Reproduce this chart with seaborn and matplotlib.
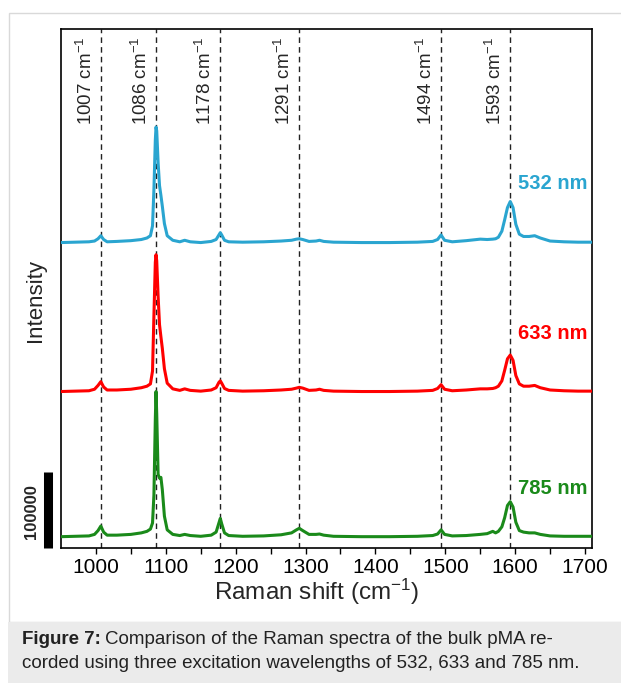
import numpy as np
import pandas as pd
import matplotlib
matplotlib.use("Agg")
import matplotlib.pyplot as plt
import matplotlib.transforms as mtransforms
from matplotlib.patches import Rectangle
import seaborn as sns

# ---------------- data ----------------
shift = [950, 970, 990, 998, 1003, 1007, 1011, 1016, 1030, 1050, 1065, 1073, 1078,
         1081, 1083, 1085, 1086, 1087, 1089, 1091, 1093, 1095, 1098, 1102, 1110,
         1120, 1127, 1135, 1150, 1165, 1172, 1176, 1178, 1180, 1184, 1190, 1210,
         1240, 1265, 1280, 1287, 1291, 1296, 1305, 1315, 1320, 1326, 1340, 1380,
         1420, 1460, 1482, 1489, 1494, 1499, 1510, 1530, 1550, 1560, 1568, 1572,
         1576, 1581, 1585, 1589, 1593, 1597, 1601, 1606, 1612, 1620, 1628, 1636,
         1650, 1670, 1690, 1710]

int_532 = [0, 500, 1000, 2000, 5000, 9000, 4000, 1000, 1500, 2500, 4000, 6000, 9000,
           22000, 70000, 135000, 152000, 147000, 105000, 75000, 62000, 48000, 25000, 9000, 3000,
           1000, 3000, 1000, 0, 1500, 4000, 10000, 13000, 10000, 3000, 1000, 500,
           1000, 2000, 3000, 4500, 5000, 4000, 1500, 2000, 3000, 1500, 500, 0,
           0, 500, 1500, 4000, 10000, 3000, 1000, 2500, 4500, 4000, 4500, 5000,
           7000, 15000, 30000, 46000, 54000, 46000, 24000, 11000, 8000, 8000, 9000, 6000,
           2000, 1000, 500, 500]

int_633 = [0, 500, 1000, 3000, 8000, 13000, 6000, 2000, 2000, 3000, 5000, 7000, 10000,
           27000, 100000, 170000, 180000, 172000, 125000, 88000, 72000, 57000, 30000, 11000, 3500,
           1500, 3500, 1500, 500, 2000, 5000, 12000, 14000, 11000, 4000, 1500, 500,
           1000, 2000, 3000, 4500, 5500, 4500, 1500, 2000, 3000, 1500, 500, 0,
           0, 500, 1500, 4000, 9000, 3000, 1000, 2000, 3500, 3500, 4000, 5000,
           7000, 14000, 28000, 43000, 48000, 41000, 21000, 10000, 7000, 7000, 8000, 5000,
           2000, 1000, 500, 500]

int_785 = [0, 500, 1000, 3000, 8000, 14000, 6000, 2000, 2000, 3000, 5000, 7000, 10000,
           18000, 55000, 155000, 191000, 162000, 82000, 77000, 78000, 62000, 27000, 9000, 3000,
           1500, 3000, 1500, 500, 2000, 6000, 18000, 24000, 17000, 5000, 1500, 500,
           1000, 2500, 5000, 9000, 11000, 8000, 3000, 3000, 3500, 2000, 500, 0,
           0, 500, 1500, 3500, 9000, 3000, 1000, 1500, 3000, 4000, 7000, 5000,
           7000, 13000, 25000, 41000, 46000, 39000, 19000, 8000, 6000, 5000, 5000, 3000,
           1000, 500, 500, 500]

labels = ["532 nm", "633 nm", "785 nm"]
offsets = [387000, 191000, 0]
label_heights = [78000, 76000, 63000]
colors = ["#2aa5d0", "#ff0000", "#1a8a1a"]
peaks = [1007, 1086, 1178, 1291, 1494, 1593]
xticks = [1000, 1100, 1200, 1300, 1400, 1500, 1600, 1700]
scale_bar = 100000

# ---------------- style ----------------
sns.set_style("ticks")
plt.rcParams["font.family"] = ["Liberation Sans", "DejaVu Sans"]
plt.rcParams["mathtext.fontset"] = "custom"
plt.rcParams["mathtext.rm"] = "Liberation Sans"
plt.rcParams["mathtext.it"] = "Liberation Sans:italic"
plt.rcParams["mathtext.bf"] = "Liberation Sans:bold"

W, H = 621, 683
fig = plt.figure(figsize=(W / 100, H / 100), dpi=100)
fig.patch.set_facecolor("white")

# outer light frame and caption box
fig.add_artist(Rectangle((8.5 / W, (H - 622) / H), 1.0, (622 - 12.5) / H,
                         transform=fig.transFigure, facecolor="none",
                         edgecolor="#d9d9d9", lw=1.0))
fig.add_artist(Rectangle((8 / W, 0), 1.0, (H - 622) / H, transform=fig.transFigure,
                         facecolor="#ebebeb", edgecolor="none"))

L, R, T, B = 61, 592, 29, 548
ax = fig.add_axes([L / W, (H - B) / H, (R - L) / W, (B - T) / H])

frames = []
for lab, off, ys in zip(labels, offsets, [int_532, int_633, int_785]):
    frames.append(pd.DataFrame({"shift": shift,
                                "intensity": np.array(ys) + off,
                                "laser": lab}))
df = pd.concat(frames, ignore_index=True)

for lab, col in zip(labels, colors):
    sns.lineplot(data=df[df["laser"] == lab], x="shift", y="intensity",
                 color=col, lw=2.2, ax=ax, estimator=None, sort=False, zorder=3)

ax.set_xlim(950, 1710)
ax.set_ylim(-14900, 668000)

blend = mtransforms.blended_transform_factory(ax.transData, ax.transAxes)
for p in peaks:
    ax.axvline(p, color="#222222", ls=(0, (4, 3)), lw=1.0, zorder=1)
    ax.text(p - 7, 0.985, f"{p} cm$^{{-1}}$", rotation=90, ha="right", va="top",
            fontsize=13.5, transform=blend)

for lab, off, hgt, col in zip(labels, offsets, label_heights, colors):
    ax.text(1704, off + hgt, lab, color=col,
            fontsize=14.5, fontweight="bold", ha="right", va="center")

ax.set_xticks(xticks)
ax.set_xticks(np.arange(1050, 1710, 100), minor=True)
ax.set_yticks([])
ax.tick_params(axis="x", which="both", direction="out", length=4, width=1.0,
               labelsize=15, colors="black", pad=3)
for s in ax.spines.values():
    s.set_linewidth(1.2)
    s.set_color("black")

ax.set_xlabel("Raman shift (cm$^{-1}$)", fontsize=17.5, va="center")
ax.xaxis.set_label_coords((317 - L) / (R - L), -(592 - B) / (B - T))
ax.set_ylabel("Intensity", fontsize=16, va="center")
ax.yaxis.set_label_coords((35 - L) / (R - L), (B - 300) / (B - T))

# scale bar
bt = mtransforms.blended_transform_factory(ax.transAxes, ax.transData)
ybot = ax.get_ylim()[0]
ax.plot([(47.5 - L) / (R - L)] * 2, [ybot, ybot + scale_bar], color="black", lw=6.5,
        solid_capstyle="butt", transform=bt, clip_on=False)
ax.text((31.5 - L) / (R - L), 32500, f"{scale_bar}", rotation=90, fontsize=12,
        fontweight="bold", ha="center", va="center", transform=bt)

# caption
cap_fs = 13.5
fig.canvas.draw()
t1 = fig.text(22 / W, (H - 640) / H, "Figure 7:", fontsize=cap_fs, fontweight="bold",
              color="#222222", va="center", ha="left")
fig.canvas.draw()
bb = t1.get_window_extent()
fig.text((bb.x1 + 4) / W, (H - 640) / H, "Comparison of the Raman spectra of the bulk pMA re-",
         fontsize=cap_fs, color="#222222", va="center", ha="left")
fig.text(22 / W, (H - 663) / H,
         "corded using three excitation wavelengths of 532, 633 and 785 nm.",
         fontsize=cap_fs, color="#222222", va="center", ha="left")

fig.savefig("out.png", dpi=100)
